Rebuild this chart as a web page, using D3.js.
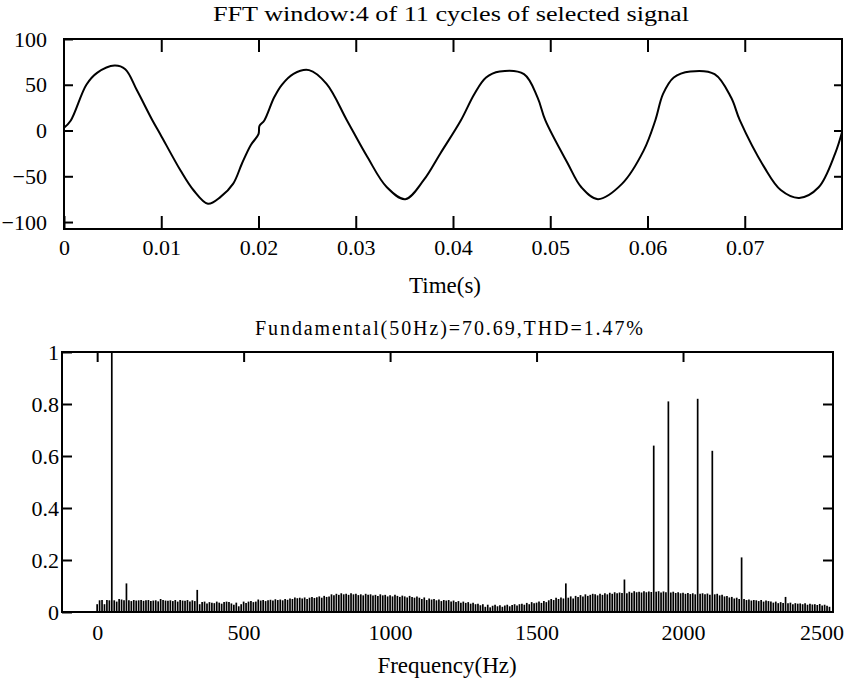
<!DOCTYPE html>
<html>
<head>
<meta charset="utf-8">
<script src="https://cdn.jsdelivr.net/npm/d3@7"></script>
<style>
  body { margin: 0; background: #fff; }
  svg text { font-family: "Liberation Serif", "Times New Roman", serif; fill: #000; }
  .axis path { display: none; }
  .axis line { stroke: #000; stroke-width: 2; }
  .frame { fill: none; stroke: #000; stroke-width: 2; }
</style>
</head>
<body>
<div id="chart"></div>
<script>
// ---- top panel: time signal ----
var timeS = [0, 0.0007, 0.0023, 0.0034, 0.0052, 0.0063, 0.0075, 0.0091, 0.0099, 0.0120,
  0.0133, 0.0148, 0.0161, 0.0174, 0.0183, 0.0192, 0.0200, 0.0201, 0.0206, 0.0216,
  0.0224, 0.0236, 0.0252, 0.0270, 0.0291, 0.0312, 0.0332, 0.0351, 0.0370, 0.0387,
  0.0408, 0.0422, 0.0434, 0.0448, 0.0473, 0.0487, 0.0495, 0.0518, 0.0532, 0.0549,
  0.0574, 0.0596, 0.0608, 0.0616, 0.0627, 0.0644, 0.0669, 0.0686, 0.0695, 0.0720,
  0.0737, 0.0756, 0.0776, 0.0793, 0.0800];
var signal = [3, 11, 50, 63, 71, 67, 44, 11, -4, -44,
  -65, -80, -72.5, -58, -36, -16, -4, 5, 11, 36,
  50, 62, 66, 51, 11, -29, -62, -75, -54, -25,
  11, 40, 58, 64.5, 61.6, 36, 11, -36, -62, -75,
  -58, -22, 11, 40, 58, 64.5, 61.6, 36, 11, -40,
  -65, -73.6, -62, -25, -2];
var timeTicks = [0, 0.01, 0.02, 0.03, 0.04, 0.05, 0.06, 0.07];
var ampTicks = [100, 50, 0, -50, -100];

// ---- bottom panel: spectrum, one bar every 25/3 Hz from 0 to 2500 Hz ----
var freqStep = 25 / 3;
var magnitude = [
  0.03, 0.045, 0.046, 0.03, 0.046, 0.045,
  1.0, 0.045, 0.04, 0.05, 0.048, 0.045,
  0.11, 0.045, 0.042, 0.046, 0.044, 0.045,
  0.046, 0.043, 0.045, 0.046, 0.042, 0.044,
  0.045, 0.041, 0.05, 0.046, 0.044, 0.043,
  0.045, 0.042, 0.046, 0.04, 0.046, 0.044,
  0.043, 0.046, 0.04, 0.045, 0.042, 0.085,
  0.03, 0.038, 0.04, 0.033, 0.038, 0.036,
  0.034, 0.04, 0.036, 0.032, 0.038, 0.04,
  0.038, 0.033, 0.028, 0.036, 0.022, 0.03,
  0.04, 0.035, 0.04, 0.042, 0.038, 0.04,
  0.048, 0.044, 0.046, 0.042, 0.045, 0.047,
  0.044, 0.049, 0.046, 0.048, 0.045, 0.05,
  0.047, 0.052, 0.05, 0.056, 0.053, 0.055,
  0.052, 0.056, 0.05, 0.055, 0.058, 0.054,
  0.057, 0.06, 0.055, 0.062, 0.058, 0.06,
  0.068, 0.064, 0.07, 0.066, 0.072, 0.068,
  0.07, 0.066, 0.072, 0.068, 0.07, 0.065,
  0.068, 0.064, 0.07, 0.066, 0.068, 0.063,
  0.066, 0.062, 0.068, 0.064, 0.066, 0.06,
  0.064, 0.06, 0.066, 0.062, 0.058, 0.063,
  0.06, 0.056, 0.062, 0.058, 0.055, 0.06,
  0.055, 0.05, 0.056, 0.046, 0.052, 0.048,
  0.05, 0.045, 0.048, 0.042, 0.046, 0.044,
  0.046, 0.04, 0.044, 0.038, 0.042, 0.036,
  0.04, 0.035, 0.038, 0.032, 0.036, 0.03,
  0.032, 0.026, 0.03, 0.02, 0.028, 0.018,
  0.024, 0.028, 0.022, 0.026, 0.02, 0.025,
  0.028, 0.022, 0.027, 0.03, 0.025, 0.03,
  0.032, 0.028, 0.035, 0.03, 0.038, 0.034,
  0.036, 0.04, 0.035, 0.042, 0.038, 0.045,
  0.05, 0.046, 0.055, 0.05, 0.056, 0.052,
  0.11, 0.055, 0.06, 0.052, 0.062, 0.058,
  0.065, 0.06, 0.068, 0.062, 0.066, 0.07,
  0.068, 0.064, 0.07, 0.066, 0.072, 0.068,
  0.074, 0.07, 0.076, 0.072, 0.075, 0.073,
  0.125, 0.072, 0.078, 0.074, 0.08, 0.076,
  0.078, 0.075, 0.08, 0.076, 0.079, 0.077,
  0.64, 0.078, 0.08, 0.075, 0.079, 0.076,
  0.81, 0.075, 0.078, 0.073, 0.076, 0.072,
  0.074, 0.07, 0.073, 0.069, 0.072, 0.068,
  0.82, 0.07, 0.072, 0.068, 0.071, 0.066,
  0.62, 0.068, 0.07, 0.064, 0.066, 0.06,
  0.062, 0.056, 0.058, 0.052, 0.055, 0.05,
  0.21, 0.05, 0.046, 0.048, 0.044, 0.046,
  0.045, 0.042, 0.046, 0.04, 0.044, 0.042,
  0.04, 0.036, 0.04, 0.034, 0.038, 0.035,
  0.058, 0.034, 0.036, 0.03, 0.034, 0.032,
  0.033, 0.03, 0.034, 0.028, 0.032, 0.029,
  0.03, 0.027, 0.031, 0.025, 0.028, 0.024,
  0.02
];
var freqTicks = [0, 500, 1000, 1500, 2000, 2500];
var magTicks = [0, 0.2, 0.4, 0.6, 0.8, 1];

var width = 849, height = 681;

var svg = d3.select('#chart')
  .append('svg')
  .attr('width', width)
  .attr('height', height);

// ================= top panel =================
var box1 = {left: 64, right: 842, top: 39, bottom: 229};

var x1 = d3.scaleLinear().domain([0, 0.08]).range([box1.left, box1.right]);
var y1 = d3.scaleLinear().domain([-107.6, 100]).range([box1.bottom, box1.top]);

svg.append('text')
  .attr('x', 451).attr('y', 21)
  .attr('text-anchor', 'middle')
  .attr('textLength', 476)
  .attr('lengthAdjust', 'spacingAndGlyphs')
  .style('font-size', '20px')
  .text('FFT window:4 of 11 cycles of selected signal');

// bottom ticks + labels
svg.append('g')
  .attr('class', 'axis')
  .attr('transform', 'translate(0,' + box1.bottom + ')')
  .call(d3.axisBottom(x1).tickValues(timeTicks).tickSize(-13).tickPadding(10)
    .tickFormat(function(d) { return d === 0 ? '0' : d3.format('.2f')(d); }))
  .selectAll('text').style('font-size', '22px');

// top ticks
svg.append('g')
  .attr('class', 'axis')
  .attr('transform', 'translate(0,' + box1.top + ')')
  .call(d3.axisTop(x1).tickValues(timeTicks.slice(1)).tickSize(-13).tickFormat(''));

// left axis
svg.append('g')
  .attr('class', 'axis')
  .attr('transform', 'translate(' + box1.left + ',0)')
  .call(d3.axisLeft(y1).tickValues(ampTicks).tickSize(-9).tickPadding(17))
  .selectAll('text').style('font-size', '22px');

// right ticks
svg.append('g')
  .attr('class', 'axis')
  .attr('transform', 'translate(' + box1.right + ',0)')
  .call(d3.axisRight(y1).tickValues([50, 0, -50]).tickSize(-8).tickFormat(''));

var line = d3.line()
  .x(function(d, i) { return x1(timeS[i]); })
  .y(function(d) { return y1(d); })
  .curve(d3.curveCatmullRom.alpha(0.5));

svg.append('path')
  .datum(signal)
  .attr('fill', 'none')
  .attr('stroke', '#000')
  .attr('stroke-width', 2)
  .attr('d', line);

svg.append('rect')
  .attr('class', 'frame')
  .attr('x', box1.left).attr('y', box1.top)
  .attr('width', box1.right - box1.left).attr('height', box1.bottom - box1.top);

svg.append('text')
  .attr('x', 445).attr('y', 293)
  .attr('text-anchor', 'middle')
  .style('font-size', '23px')
  .text('Time(s)');

// ================= bottom panel =================
var box2 = {left: 62, right: 833, top: 352, bottom: 612};

var x2 = d3.scaleLinear().domain([-120, 2512]).range([box2.left, box2.right]);
var y2 = d3.scaleLinear().domain([0, 1]).range([box2.bottom, box2.top]);

svg.append('text')
  .attr('x', 449).attr('y', 335)
  .attr('text-anchor', 'middle')
  .attr('textLength', 388)
  .attr('lengthAdjust', 'spacing')
  .style('font-size', '20px')
  .text('Fundamental(50Hz)=70.69,THD=1.47%');

// spectrum bars
svg.append('g')
  .selectAll('line')
  .data(magnitude)
  .enter().append('line')
    .attr('x1', function(d, i) { return x2(i * freqStep); })
    .attr('x2', function(d, i) { return x2(i * freqStep); })
    .attr('y1', y2(0))
    .attr('y2', function(d) { return y2(d); })
    .attr('stroke', '#000')
    .attr('stroke-width', 1.7);

// bottom labels
var fx = svg.append('g')
  .attr('class', 'axis')
  .attr('transform', 'translate(0,' + box2.bottom + ')')
  .call(d3.axisBottom(x2).tickValues(freqTicks).tickSize(0).tickPadding(12)
    .tickFormat(d3.format('d')));
fx.selectAll('text').style('font-size', '22px');
// last label sits against the right edge in the original
fx.selectAll('text').filter(function(d) { return d === 2500; }).attr('dx', -8);

// top ticks
svg.append('g')
  .attr('class', 'axis')
  .attr('transform', 'translate(0,' + box2.top + ')')
  .call(d3.axisTop(x2).tickValues(freqTicks.slice(0, 5)).tickSize(-10).tickFormat(''));

// left axis
svg.append('g')
  .attr('class', 'axis')
  .attr('transform', 'translate(' + box2.left + ',0)')
  .call(d3.axisLeft(y2).tickValues(magTicks).tickSize(-10).tickPadding(3)
    .tickFormat(function(d) { return String(d); }))
  .selectAll('text').style('font-size', '22px');

// right ticks
svg.append('g')
  .attr('class', 'axis')
  .attr('transform', 'translate(' + box2.right + ',0)')
  .call(d3.axisRight(y2).tickValues([0.2, 0.4, 0.6, 0.8]).tickSize(-10).tickFormat(''));

svg.append('rect')
  .attr('class', 'frame')
  .attr('x', box2.left).attr('y', box2.top)
  .attr('width', box2.right - box2.left).attr('height', box2.bottom - box2.top);

svg.append('text')
  .attr('x', 447).attr('y', 673)
  .attr('text-anchor', 'middle')
  .style('font-size', '23px')
  .text('Frequency(Hz)');
</script>
</body>
</html>
